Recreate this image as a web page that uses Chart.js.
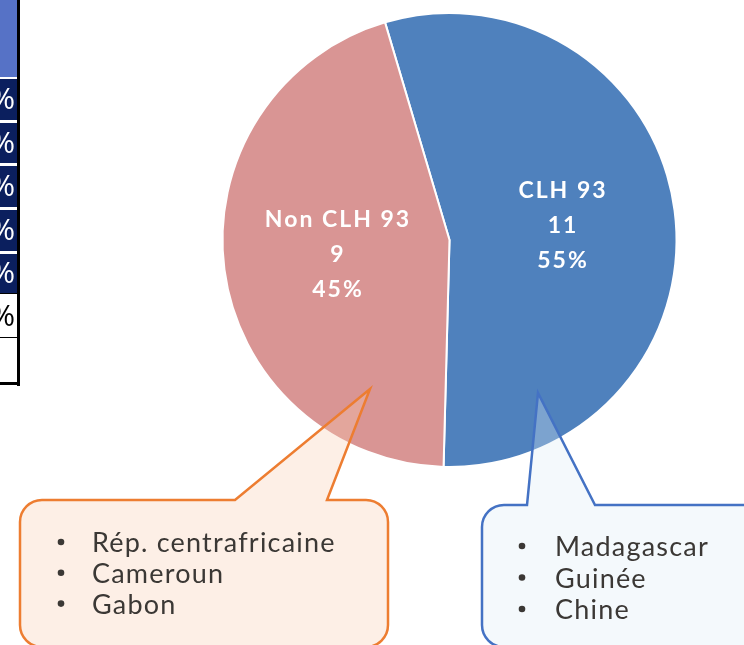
<!DOCTYPE html>
<html>
<head>
<meta charset="utf-8">
<script src="https://cdn.jsdelivr.net/npm/chart.js@4.4.1/dist/chart.umd.min.js"></script>
<style>
  html, body { margin: 0; padding: 0; background: #ffffff; overflow: hidden; }
  #pie { display: block; }
</style>
</head>
<body>
<canvas id="pie" width="744" height="645"></canvas>
<script>
// values
const groups = ["CLH 93", "Non CLH 93"];
const counts = [11, 9];
const shares = ["55%", "45%"];
const sliceColors = ["#4F81BD", "#D99594"];
const clhCountries = ["Madagascar", "Guinée", "Chine"];
const nonClhCountries = ["Rép. centrafricaine", "Cameroun", "Gabon"];
// cropped table on the left edge
const tableCells = ["%", "%", "%", "%", "%", "%", ""];

function calloutPath(ctx, x0, y0, x1, y1, r, baseL, tip, baseR) {
  ctx.beginPath();
  ctx.moveTo(x0 + r, y0);
  ctx.lineTo(baseL, y0);
  ctx.lineTo(tip[0], tip[1]);
  ctx.lineTo(baseR, y0);
  ctx.lineTo(x1 - r, y0);
  ctx.arcTo(x1, y0, x1, y0 + r, r);
  ctx.lineTo(x1, y1 - r);
  ctx.arcTo(x1, y1, x1 - r, y1, r);
  ctx.lineTo(x0 + r, y1);
  ctx.arcTo(x0, y1, x0, y1 - r, r);
  ctx.lineTo(x0, y0 + r);
  ctx.arcTo(x0, y0, x0 + r, y0, r);
  ctx.closePath();
}

function drawList(ctx, items, bulletX, textX, firstBase, step) {
  ctx.fillStyle = "#3b3835";
  ctx.font = "27px Lato";
  ctx.letterSpacing = "1.2px";
  ctx.textAlign = "left";
  ctx.textBaseline = "alphabetic";
  items.forEach((item, i) => {
    const y = firstBase + i * step;
    ctx.beginPath();
    ctx.arc(bulletX, y - 10, 3.3, 0, Math.PI * 2);
    ctx.fill();
    ctx.fillText(item, textX, y);
  });
}

const tablePlugin = {
  id: "leftTable",
  beforeDraw(chart) {
    const ctx = chart.ctx;
    ctx.save();
    ctx.fillStyle = "#5672C6";
    ctx.fillRect(0, 0, 17, 77);
    const rows = [79, 123, 166, 210, 254, 296, 340, 382];
    tableCells.forEach((cell, i) => {
      const top = rows[i];
      const bottom = rows[i + 1] - 3;
      const dark = i < 5;
      ctx.fillStyle = dark ? "#0B1F5E" : "#ffffff";
      ctx.fillRect(0, top, 17, bottom - top);
      if (cell) {
        ctx.fillStyle = dark ? "#ffffff" : "#000000";
        ctx.font = "30px 'Open Sans'";
        ctx.textAlign = "right";
        ctx.textBaseline = "middle";
        ctx.fillText(cell, 15, (top + bottom) / 2 + 1);
      }
    });
    ctx.fillStyle = "#000000";
    ctx.fillRect(17, 0, 3, 386);
    ctx.fillRect(0, 382, 20, 3);
    ctx.fillRect(0, 293, 17, 1);
    ctx.fillRect(0, 337, 17, 1);
    ctx.restore();
  },
};

const labelPlugin = {
  id: "sliceLabels",
  afterDatasetsDraw(chart) {
    const ctx = chart.ctx;
    const meta = chart.getDatasetMeta(0);
    ctx.save();
    ctx.fillStyle = "#ffffff";
    ctx.font = "bold 23px Lato";
    ctx.letterSpacing = "2px";
    ctx.textAlign = "center";
    ctx.textBaseline = "middle";
    meta.data.forEach((arc, i) => {
      const p = arc.getProps(["x", "y", "startAngle", "endAngle", "outerRadius"], true);
      const mid = (p.startAngle + p.endAngle) / 2;
      const cx = p.x + Math.cos(mid) * p.outerRadius * 0.5 + 1;
      const cy = p.y + Math.sin(mid) * p.outerRadius * 0.5;
      const lines = [groups[i], String(counts[i]), shares[i]];
      lines.forEach((t, j) => ctx.fillText(t, cx, cy + (j - 1) * 35));
    });
    ctx.restore();
  },
};

const calloutPlugin = {
  id: "callouts",
  afterDraw(chart) {
    const ctx = chart.ctx;
    ctx.save();
    ctx.lineWidth = 2.5;
    ctx.lineJoin = "miter";

    calloutPath(ctx, 20, 500, 388, 647, 22, 235, [370, 389], 327);
    ctx.fillStyle = "rgba(248, 203, 173, 0.31)";
    ctx.fill();
    ctx.strokeStyle = "#ED7D31";
    ctx.stroke();

    calloutPath(ctx, 482, 505, 766, 647, 22, 527, [538, 393], 595);
    ctx.fillStyle = "rgba(222, 235, 247, 0.32)";
    ctx.fill();
    ctx.strokeStyle = "#4472C4";
    ctx.stroke();

    drawList(ctx, nonClhCountries, 61, 92, 552, 30.8);
    drawList(ctx, clhCountries, 522, 555, 556, 31.5);
    ctx.restore();
  },
};

new Chart(document.getElementById("pie"), {
  type: "pie",
  data: {
    labels: groups,
    datasets: [
      {
        data: counts,
        backgroundColor: sliceColors,
        borderColor: "#ffffff",
        borderWidth: 2,
        hoverOffset: 0,
      },
    ],
  },
  options: {
    responsive: false,
    animation: false,
    rotation: -16.5,
    layout: { padding: { left: 221.5, right: 66.5, top: 12, bottom: 177 } },
    plugins: {
      legend: { display: false },
      tooltip: { enabled: false },
    },
  },
  plugins: [tablePlugin, labelPlugin, calloutPlugin],
});
</script>
</body>
</html>
